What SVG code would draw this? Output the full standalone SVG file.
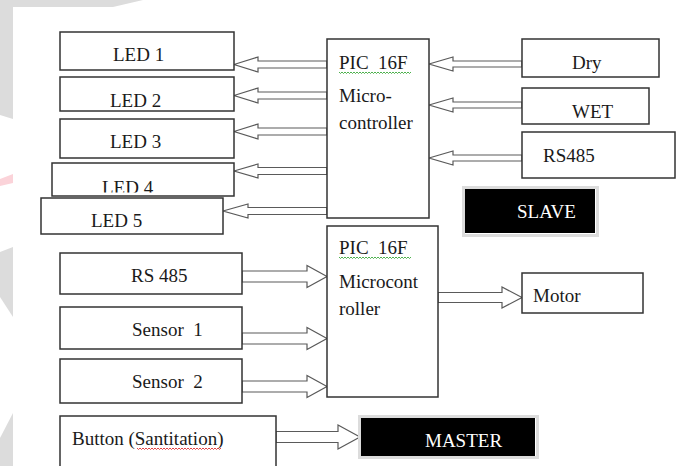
<svg xmlns="http://www.w3.org/2000/svg" width="680" height="466" viewBox="0 0 680 466">
<style>
.box{fill:#fff;stroke:#333;stroke-width:1.5}
.arr{fill:#fff;stroke:#5a5a5a;stroke-width:1.2;stroke-linejoin:miter}
.t{font-family:"Liberation Serif","Times New Roman",serif;font-size:19px;fill:#1a1a1a}
.w{font-family:"Liberation Serif","Times New Roman",serif;font-size:19px;fill:#fff}
.wm{fill:#dcdcdc}
.sqg{fill:none;stroke:#3aa83a;stroke-width:0.9}
.sqr{fill:none;stroke:#e03030;stroke-width:0.9}
</style>
<defs>
<clipPath id="clip4"><rect x="52" y="163" width="182" height="29.5"/></clipPath>
</defs>
<rect width="680" height="466" fill="#fff"/>
<g id="watermark">
<polygon class="wm" points="0,0 143,0 113,7 13,7 13,119 0,115"/>
<polygon points="0,179 13,174 13,183 0,186" fill="#fbd3d9"/>
<polygon class="wm" points="0,252 13,247 13,317 0,297"/>
<polygon class="wm" points="0,438 13,413 13,466 0,466"/>
</g>
<g id="connectors">
<polygon class="arr" points="234,64.5 258,57 258,61 327,61 327,68 258,68 258,72"/>
<polygon class="arr" points="234,95.5 258,88 258,92 327,92 327,99 258,99 258,103"/>
<polygon class="arr" points="234,131.5 258,124 258,128 327,128 327,135 258,135 258,139"/>
<polygon class="arr" points="234,171 258,164 258,167.5 327,167.5 327,174.5 258,174.5 258,178"/>
<polygon class="arr" points="223,211 248,204 248,207.5 327,207.5 327,214.5 248,214.5 248,218"/>
<polygon class="arr" points="429,64 453,57 453,61 522,61 522,67 453,67 453,71"/>
<polygon class="arr" points="429,105 453,98 453,102 522,102 522,108 453,108 453,112"/>
<polygon class="arr" points="429,158 453,151 453,155 522,155 522,161 453,161 453,165"/>
<polygon class="arr" points="327,276.5 307,265.5 307,271 242,271 242,282 307,282 307,287.5"/>
<polygon class="arr" points="327,338.5 307,327.5 307,333 242,333 242,344 307,344 307,349.5"/>
<polygon class="arr" points="327,386.5 307,375.5 307,381 242,381 242,392 307,392 307,397.5"/>
<polygon class="arr" points="522,297.5 502,287 502,292.5 438,292.5 438,302.5 502,302.5 502,308"/>
<polygon class="arr" points="360,437 338,425 338,431.5 276,431.5 276,442.5 338,442.5 338,449"/>
</g>
<g id="led1"><rect class="box" x="60" y="32" width="174" height="38"/><text class="t" x="113" y="61">LED 1</text></g>
<g id="led2"><rect class="box" x="60" y="77" width="174" height="34"/><text class="t" x="110" y="107">LED 2</text></g>
<g id="led3"><rect class="box" x="60" y="119" width="174" height="39"/><text class="t" x="110" y="148">LED 3</text></g>
<g id="led4"><rect class="box" x="52" y="163" width="182" height="33"/><text class="t" x="102" y="194" clip-path="url(#clip4)">LED 4</text></g>
<g id="led5"><rect class="box" x="41" y="198" width="182" height="36"/><text class="t" x="91" y="227">LED 5</text></g>
<g id="mc1"><rect class="box" x="327" y="39" width="102" height="179"/>
<text class="t" x="339" y="69" xml:space="preserve">PIC  16F</text>
<path class="sqg" d="M339,72 l1.5,1.5 l1.5,-1.5 l1.5,1.5 l1.5,-1.5 l1.5,1.5 l1.5,-1.5 l1.5,1.5 l1.5,-1.5 l1.5,1.5 l1.5,-1.5 l1.5,1.5 l1.5,-1.5 l1.5,1.5 l1.5,-1.5 l1.5,1.5 l1.5,-1.5 l1.5,1.5 l1.5,-1.5 l1.5,1.5 l1.5,-1.5 l1.5,1.5 l1.5,-1.5 l1.5,1.5 l1.5,-1.5 l1.5,1.5 l1.5,-1.5 l1.5,1.5 l1.5,-1.5 l1.5,1.5 l1.5,-1.5 l1.5,1.5 l1.5,-1.5 l1.5,1.5 l1.5,-1.5 l1.5,1.5 l1.5,-1.5 l1.5,1.5 l1.5,-1.5 l1.5,1.5 l1.5,-1.5 l1.5,1.5 l1.5,-1.5 l1.5,1.5 l1.5,-1.5 l1.5,1.5 l1.5,-1.5 l1.5,1.5 l1.5,-1.5"/>
<text class="t" x="339" y="102">Micro-</text>
<text class="t" x="339" y="129">controller</text></g>
<g id="dry"><rect class="box" x="522" y="39" width="137" height="38"/><text class="t" x="572" y="69">Dry</text></g>
<g id="wet"><rect class="box" x="522" y="88" width="127" height="36"/><text class="t" x="572" y="118">WET</text></g>
<g id="rs485a"><rect class="box" x="522" y="132" width="153" height="46"/><text class="t" x="543" y="162">RS485</text></g>
<g id="slave"><rect x="463.5" y="187.5" width="134" height="48" fill="none" stroke="#dcdcdc" stroke-width="3"/><rect x="465" y="189" width="130" height="44" fill="#000"/><text class="w" x="517" y="218">SLAVE</text></g>
<g id="mc2"><rect class="box" x="327" y="226" width="111" height="171"/>
<text class="t" x="339" y="254" xml:space="preserve">PIC  16F</text>
<path class="sqg" d="M339,257 l1.5,1.5 l1.5,-1.5 l1.5,1.5 l1.5,-1.5 l1.5,1.5 l1.5,-1.5 l1.5,1.5 l1.5,-1.5 l1.5,1.5 l1.5,-1.5 l1.5,1.5 l1.5,-1.5 l1.5,1.5 l1.5,-1.5 l1.5,1.5 l1.5,-1.5 l1.5,1.5 l1.5,-1.5 l1.5,1.5 l1.5,-1.5 l1.5,1.5 l1.5,-1.5 l1.5,1.5 l1.5,-1.5 l1.5,1.5 l1.5,-1.5 l1.5,1.5 l1.5,-1.5 l1.5,1.5 l1.5,-1.5 l1.5,1.5 l1.5,-1.5 l1.5,1.5 l1.5,-1.5 l1.5,1.5 l1.5,-1.5 l1.5,1.5 l1.5,-1.5 l1.5,1.5 l1.5,-1.5 l1.5,1.5 l1.5,-1.5 l1.5,1.5 l1.5,-1.5 l1.5,1.5 l1.5,-1.5 l1.5,1.5 l1.5,-1.5"/>
<text class="t" x="339" y="288">Microcont</text>
<text class="t" x="339" y="315">roller</text></g>
<g id="rs485b"><rect class="box" x="60" y="253" width="182" height="41"/><text class="t" x="131" y="282">RS 485</text></g>
<g id="sensor1"><rect class="box" x="60" y="307" width="182" height="42"/><text class="t" x="132" y="336" xml:space="preserve">Sensor  1</text></g>
<g id="sensor2"><rect class="box" x="60" y="359" width="182" height="44"/><text class="t" x="132" y="388" xml:space="preserve">Sensor  2</text></g>
<g id="motor"><rect class="box" x="522" y="273" width="121" height="40"/><text class="t" x="533" y="302">Motor</text></g>
<g id="button"><rect class="box" x="60" y="416" width="216" height="56"/><text class="t" x="72" y="445">Button (Santitation)</text>
<path class="sqr" d="M137,448 l1.5,1.5 l1.5,-1.5 l1.5,1.5 l1.5,-1.5 l1.5,1.5 l1.5,-1.5 l1.5,1.5 l1.5,-1.5 l1.5,1.5 l1.5,-1.5 l1.5,1.5 l1.5,-1.5 l1.5,1.5 l1.5,-1.5 l1.5,1.5 l1.5,-1.5 l1.5,1.5 l1.5,-1.5 l1.5,1.5 l1.5,-1.5 l1.5,1.5 l1.5,-1.5 l1.5,1.5 l1.5,-1.5 l1.5,1.5 l1.5,-1.5 l1.5,1.5 l1.5,-1.5 l1.5,1.5 l1.5,-1.5 l1.5,1.5 l1.5,-1.5 l1.5,1.5 l1.5,-1.5 l1.5,1.5 l1.5,-1.5 l1.5,1.5 l1.5,-1.5 l1.5,1.5 l1.5,-1.5 l1.5,1.5 l1.5,-1.5 l1.5,1.5 l1.5,-1.5 l1.5,1.5 l1.5,-1.5 l1.5,1.5 l1.5,-1.5 l1.5,1.5 l1.5,-1.5 l1.5,1.5 l1.5,-1.5 l1.5,1.5 l1.5,-1.5 l1.5,1.5 l1.5,-1.5"/></g>
<g id="master"><rect x="359.5" y="416.5" width="178" height="41" fill="none" stroke="#dcdcdc" stroke-width="3"/><rect x="361" y="418" width="174" height="38" fill="#000"/><text class="w" x="425" y="447">MASTER</text></g>
</svg>
